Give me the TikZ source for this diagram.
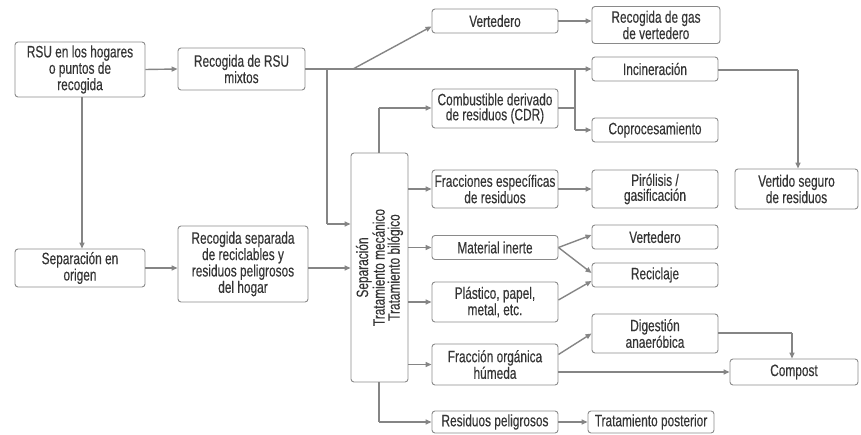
\documentclass[tikz,border=0pt]{standalone}
\usepackage{fontspec}
\setmainfont{Liberation Sans}[FakeStretch=0.72,FakeBold=0.3]
\usetikzlibrary{arrows.meta,calc}
\definecolor{boxc}{HTML}{8A8A8A}
\definecolor{linec}{HTML}{858585}
\definecolor{txtc}{HTML}{353535}
\newcommand{\fs}{\fontsize{16.5}{15}\selectfont}
\tikzset{
  box/.style={draw=boxc, line width=0.9pt, rounded corners=3pt, inner sep=0pt, align=center, text=txtc, font=\fs},
  conn/.style={draw=linec, line width=1.4pt, -{Triangle[length=6pt,width=5pt]}},
  plain/.style={draw=linec, line width=1.4pt}
}
\begin{document}
\begin{tikzpicture}[x=1pt,y=-1pt]
\useasboundingbox (0,0) rectangle (861,435);
% nodes
\node[box, minimum width=130pt, minimum height=55pt] (rsu) at (80,69.5) {RSU en los hogares\\o puntos de\\recogida};
\node[box, minimum width=127pt, minimum height=42pt] (mix) at (241.5,69) {Recogida de RSU\\mixtos};
\node[box, minimum width=130pt, minimum height=38pt] (orig) at (80,268) {Separación en\\origen};
\node[box, minimum width=130pt, minimum height=76pt] (sepr) at (243,264) {Recogida separada\\de reciclables y\\residuos peligrosos\\del hogar};
\node[box, minimum width=57pt, minimum height=229pt] (sep) at (379.5,267.5) {};
\node[text=txtc, font=\fs, align=center, rotate=90] (septxt) at (sep.center) {Separación\\Tratamiento mecánico\\Tratamiento bilógico};
\node[box, minimum width=126pt, minimum height=24pt] (vert1) at (495,21) {Vertedero};
\node[box, minimum width=128pt, minimum height=37pt] (gas) at (656,25) {Recogida de gas\\de vertedero};
\node[box, minimum width=126pt, minimum height=24pt] (inc) at (655,69) {Incineración};
\node[box, minimum width=126pt, minimum height=39pt] (cdr) at (495,108.5) {Combustible derivado\\de residuos (CDR)};
\node[box, minimum width=126pt, minimum height=24pt] (copro) at (655,130) {Coprocesamiento};
\node[box, minimum width=126pt, minimum height=38pt] (frac) at (495,189) {Fracciones específicas\\de residuos};
\node[box, minimum width=126pt, minimum height=38pt] (piro) at (655,189) {Pirólisis /\\gasificación};
\node[box, minimum width=123pt, minimum height=40pt] (vseg) at (796.5,189) {Vertido seguro\\de residuos};
\node[box, minimum width=126pt, minimum height=24pt] (inerte) at (495,247.5) {Material inerte};
\node[box, minimum width=126pt, minimum height=24pt] (vert2) at (655,237) {Vertedero};
\node[box, minimum width=126pt, minimum height=24pt] (recic) at (655,275) {Reciclaje};
\node[box, minimum width=126pt, minimum height=40pt] (plast) at (495,302) {Plástico, papel,\\metal, etc.};
\node[box, minimum width=126pt, minimum height=41pt] (org) at (495,364.5) {Fracción orgánica\\húmeda};
\node[box, minimum width=126pt, minimum height=39pt] (dig) at (655,333.5) {Digestión\\anaeróbica};
\node[box, minimum width=128pt, minimum height=26pt] (comp) at (794,372) {Compost};
\node[box, minimum width=126pt, minimum height=22pt] (peli) at (495,422) {Residuos peligrosos};
\node[box, minimum width=126pt, minimum height=22pt] (post) at (651,422) {Tratamiento posterior};
% junction coordinates
\coordinate (j1) at (327,69);
\coordinate (j2) at (327,224);
\coordinate (j3) at (353,69);
\coordinate (j4) at (575,69);
\coordinate (j5) at (575,108);
\coordinate (j6) at (798,70);
\coordinate (j7) at (792,333);
\coordinate (j8) at (379,108);
\coordinate (j9) at (379,422);
% connectors
\draw[conn] (rsu.east) -- (mix.west);
\draw[conn] (rsu.south -| 82,0) -- (orig.north -| 82,0);
\draw[conn] (orig.east) -- (orig.east -| sepr.west);
\draw[conn] (sepr.east |- orig.east) -- (orig.east -| sep.west);
\draw[conn] (mix.east) -- (inc.west);
\draw[plain] (j1) -- (j2);
\draw[conn] (j2) -- (j2 -| sep.west);
\draw[conn] (j3) -- ($(vert1.south west)+(0,-7)$);
\draw[conn] (vert1.east) -- (vert1.east -| gas.west);
\draw[plain] (cdr.east |- j5) -- (j5);
\draw[plain] (j4) -- (j4 |- copro.west);
\draw[conn] (j4 |- copro.west) -- (copro.west);
\draw[plain] (sep.north -| j8) -- (j8);
\draw[conn] (j8) -- (cdr.west |- j8);
\draw[conn] (sep.east |- frac.west) -- (frac.west);
\draw[conn] (frac.east) -- (piro.west);
\draw[plain] (inc.east |- j6) -- (j6);
\draw[conn] (j6) -- (vseg.north -| j6);
\draw[conn] (sep.east |- inerte.west) -- (inerte.west);
\draw[conn] (inerte.east) -- ($(vert2.west)+(0,-2)$);
\draw[conn] (inerte.east) -- ($(recic.west)+(0,-2)$);
\draw[conn] (sep.east |- plast.west) -- (plast.west);
\draw[conn] ($(plast.east)+(0,-2)$) -- ($(recic.west)+(0,6)$);
\draw[conn] (sep.east |- org.west) -- (org.west);
\draw[conn] ($(org.east)+(0,-10)$) -- (dig.west);
\draw[conn] ($(org.east)+(0,7.5)$) -- (comp.west);
\draw[plain] (dig.east |- j7) -- (j7);
\draw[conn] (j7) -- (comp.north -| j7);
\draw[plain] (sep.south -| j9) -- (j9);
\draw[conn] (j9) -- (peli.west);
\draw[conn] (peli.east) -- (post.west);
\end{tikzpicture}
\end{document}
